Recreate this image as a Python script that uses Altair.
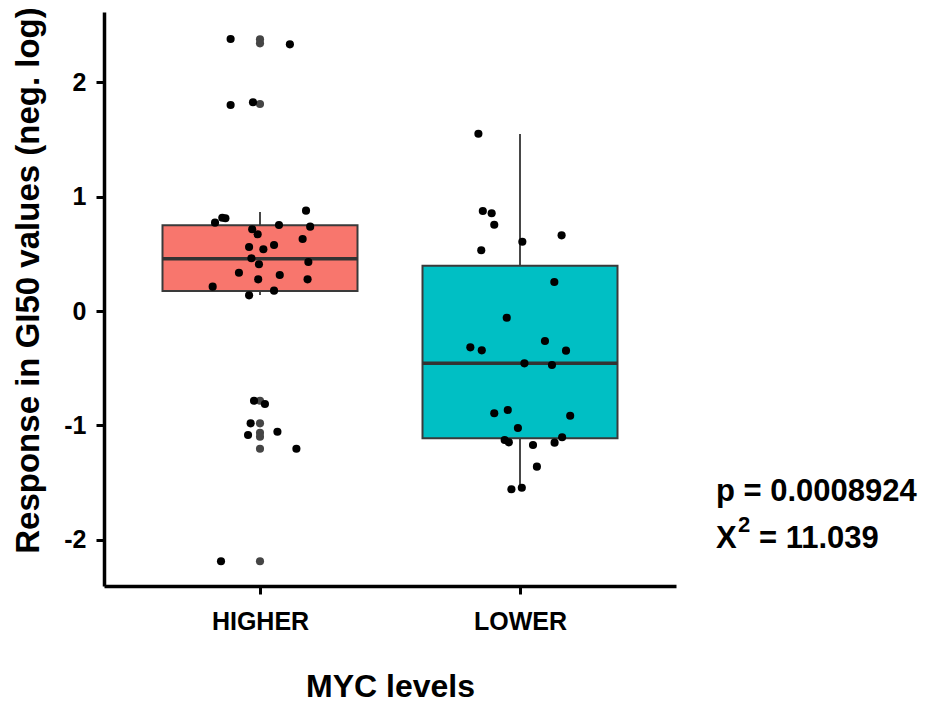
import altair as alt
import pandas as pd

# ---- data ----
groups = ["HIGHER", "LOWER"]
group_pos = [1, 2]
box_q1 = [0.175, -1.114]
box_median = [0.458, -0.458]
box_q3 = [0.750, 0.396]
whisker_low = [0.140, -1.551]
whisker_high = [0.866, 1.549]
fill_colors = ["#F8766D", "#00BFC4"]

higher_values = [2.380, 2.333, 1.802, 1.826, 0.878, 0.816, 0.811, 0.773, 0.752, 0.738,
                 0.715, 0.671, 0.630, 0.577, 0.560, 0.540, 0.461, 0.409, 0.429, 0.335,
                 0.315, 0.277, 0.277, 0.213, 0.178, 0.137, -0.785, -0.814, -0.983,
                 -1.085, -1.056, -1.205, -2.190]
higher_jitter = [-0.113, 0.115, -0.113, -0.027, 0.177, -0.145, -0.133, -0.173, 0.073, 0.193,
                 -0.030, -0.009, 0.164, 0.054, -0.042, 0.013, -0.033, -0.004, 0.186, -0.081,
                 0.076, -0.007, 0.183, -0.182, 0.054, -0.042, -0.023, 0.019, -0.036,
                 -0.046, 0.067, 0.140, -0.150]
lower_values = [1.551, 0.875, 0.855, 0.755, 0.606, 0.662, 0.531, 0.254, -0.059, -0.318,
                -0.344, -0.262, -0.347, -0.458, -0.472, -0.895, -0.866, -0.916, -1.024,
                -1.129, -1.149, -1.172, -1.152, -1.105, -1.362, -1.560, -1.546]
lower_jitter = [-0.160, -0.143, -0.109, -0.099, 0.009, 0.160, -0.149, 0.132, -0.051, -0.191,
                -0.147, 0.096, 0.177, 0.017, 0.123, -0.099, -0.047, 0.193, -0.008,
                -0.059, -0.043, 0.050, 0.133, 0.162, 0.065, -0.033, 0.007]
higher_outliers = [2.377, 2.342, 1.811, -0.785, -0.983, -1.065, -1.100, -1.205, -2.190]

y_ticks = [-2, -1, 0, 1, 2]
y_title = "Response in GI50 values (neg. log)"
x_title = "MYC levels"
p_text = "p = 0.0008924"
chi_text = ["X", "2", "= 11.039"]

# ---- tables ----
HALF = 0.375
box_df = pd.DataFrame({
    "group": groups, "pos": group_pos, "q1": box_q1, "med": box_median,
    "q3": box_q3, "lo": whisker_low, "hi": whisker_high,
})
box_df["xmin"] = box_df["pos"] - HALF
box_df["xmax"] = box_df["pos"] + HALF

pts_df = pd.DataFrame({
    "group": ["HIGHER"] * len(higher_values) + ["LOWER"] * len(lower_values),
    "value": higher_values + lower_values,
    "jit": higher_jitter + lower_jitter,
})
pts_df["x"] = pts_df["group"].map(dict(zip(groups, group_pos))) + pts_df["jit"]

out_df = pd.DataFrame({"value": higher_outliers, "x": [group_pos[0]] * len(higher_outliers)})

FONT = "Liberation Sans"
xscale = alt.Scale(domain=[0.4, 2.6], nice=False, zero=False)
yscale = alt.Scale(domain=[-2.406, 2.616], nice=False, zero=False)
label_expr = "[" + ",".join("'%s'" % g for g in groups) + "][datum.value - 1]"

xaxis = alt.Axis(values=group_pos, labelExpr=label_expr, title=x_title,
                 titleX=286, titleY=110, titleBaseline="alphabetic", titleAnchor="middle",
                 labelPadding=15, labelFontSize=25)
yaxis = alt.Axis(values=y_ticks, labelExpr="datum.value + ''", title=y_title, titleAngle=270,
                 titleX=-66, titleY=268, titleBaseline="alphabetic", titleAlign="center",
                 labelPadding=10, labelFontSize=25, titleFontSize=33)

def X(field):
    return alt.X(field, type="quantitative", scale=xscale, axis=xaxis)

def Y(field):
    return alt.Y(field, type="quantitative", scale=yscale, axis=yaxis)

whisk_up = alt.Chart(box_df).mark_rule(color="#333333", strokeWidth=1.8).encode(
    x=X("pos"), y=Y("q3"), y2="hi")
whisk_dn = alt.Chart(box_df).mark_rule(color="#333333", strokeWidth=1.8).encode(
    x=X("pos"), y=Y("lo"), y2="q1")
boxes = alt.Chart(box_df).mark_rect(stroke="#3a3a3a", strokeWidth=2).encode(
    x=X("xmin"), x2="xmax", y=Y("q1"), y2="q3",
    fill=alt.Fill("group:N", scale=alt.Scale(domain=groups, range=fill_colors), legend=None))
medians = alt.Chart(box_df).mark_rule(color="#333333", strokeWidth=3.5).encode(
    x=X("xmin"), x2="xmax", y=Y("med"))
outliers = alt.Chart(out_df).mark_circle(size=66, opacity=1, color="#454545").encode(
    x=X("x"), y=Y("value"))
points = alt.Chart(pts_df).mark_circle(size=66, opacity=1, color="black").encode(
    x=X("x"), y=Y("value"))

txt_kw = dict(font=FONT, fontWeight="bold", color="black", align="left", baseline="alphabetic")
t_p = alt.Chart(pd.DataFrame({"t": [p_text]})).mark_text(fontSize=31, **txt_kw).encode(
    x=alt.value(612), y=alt.value(489), text="t:N")
t_x = alt.Chart(pd.DataFrame({"t": [chi_text[0]]})).mark_text(fontSize=31, **txt_kw).encode(
    x=alt.value(612), y=alt.value(536), text="t:N")
t_2 = alt.Chart(pd.DataFrame({"t": [chi_text[1]]})).mark_text(fontSize=22, **txt_kw).encode(
    x=alt.value(634), y=alt.value(520), text="t:N")
t_eq = alt.Chart(pd.DataFrame({"t": [chi_text[2]]})).mark_text(fontSize=31, **txt_kw).encode(
    x=alt.value(655), y=alt.value(536), text="t:N")

chart = alt.layer(whisk_up, whisk_dn, boxes, medians, outliers, points, t_p, t_x, t_2, t_eq).properties(
    width=572, height=574,
    autosize=alt.AutoSizeParams(type="none"),
    padding={"left": 96, "top": 4, "right": 245, "bottom": 117},
    background="white",
).configure_view(stroke=None).configure_axis(
    grid=False, domainColor="black", domainWidth=3.5, tickColor="black", tickWidth=3,
    tickSize=8, labelFont=FONT, labelFontWeight="bold", labelColor="black",
    titleFont=FONT, titleFontWeight="bold", titleFontSize=32, titleColor="black",
)

chart.save("out.html", embed_options={"renderer": "svg", "actions": False})
